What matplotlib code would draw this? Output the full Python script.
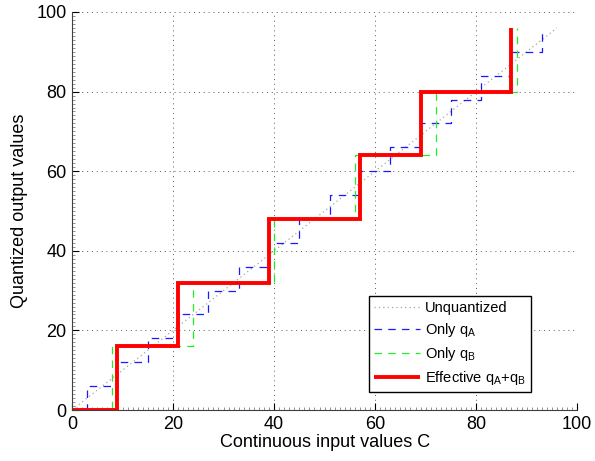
import matplotlib
matplotlib.use("Agg")
import matplotlib.pyplot as plt
from matplotlib.ticker import MultipleLocator

plt.rcParams['font.family'] = ['Liberation Sans', 'DejaVu Sans']
plt.rcParams['mathtext.fontset'] = 'custom'
plt.rcParams['mathtext.rm'] = 'Liberation Sans'
plt.rcParams['mathtext.it'] = 'Liberation Sans'

# Data
unq_x = [0, 96]
unq_y = [0, 96]

qA_breaks = [3, 9, 15, 21, 27, 33, 39, 45, 51, 57, 63, 69, 75, 81, 87, 93]
qA_levels = [0, 6, 12, 18, 24, 30, 36, 42, 48, 54, 60, 66, 72, 78, 84, 90, 96]

qB_breaks = [8, 24, 40, 56, 72, 88]
qB_levels = [0, 16, 32, 48, 64, 80, 96]

eff_breaks = [9, 21, 39, 57, 69, 87]
eff_levels = [0, 16, 32, 48, 64, 80, 96]

labels = ["Unquantized", "Only q$_\\mathregular{A}$", "Only q$_\\mathregular{B}$",
          "Effective q$_\\mathregular{A}$+q$_\\mathregular{B}$"]


def stair(breaks, levels, x0=0):
    xs, ys = [x0], [levels[0]]
    for b, prev, new in zip(breaks, levels[:-1], levels[1:]):
        xs += [b, b]
        ys += [prev, new]
    return xs, ys


fig = plt.figure(figsize=(5.95, 4.61), dpi=100)
ax = fig.add_axes([0.121, 0.1106, 0.849, 0.8634])

ax.plot(unq_x, unq_y, linestyle=(0, (1, 2.5)), color='0.65', lw=0.9, label=labels[0])
xa, ya = stair(qA_breaks, qA_levels)
ax.plot(xa, ya, linestyle=(0, (6, 5)), color='#1a1aff', lw=0.9, label=labels[1])
xb, yb = stair(qB_breaks, qB_levels)
ax.plot(xb, yb, linestyle=(0, (6, 5)), color='#22ee22', lw=0.9, label=labels[2])
xe, ye = stair(eff_breaks, eff_levels)
ax.plot(xe, ye, linestyle='-', color='#ff0000', lw=2.8, label=labels[3],
        solid_capstyle='butt', solid_joinstyle='miter')

ax.set_xlim(0, 100)
ax.set_ylim(0, 100)
ax.xaxis.set_major_locator(MultipleLocator(20))
ax.yaxis.set_major_locator(MultipleLocator(20))
ax.xaxis.set_minor_locator(MultipleLocator(1))
ax.yaxis.set_minor_locator(MultipleLocator(1))
ax.tick_params(which='major', direction='in', length=5, width=0.8, labelsize=13, pad=4)
ax.tick_params(which='minor', direction='in', length=2.5, width=0.5, color='0.4')
for s in ['top', 'right']:
    ax.spines[s].set_visible(False)
for s in ['left', 'bottom']:
    ax.spines[s].set_linewidth(0.8)
    ax.spines[s].set_color('0.25')

ax.grid(True, which='major', linestyle=(0, (1, 4)), color='0.35', lw=0.7)

ax.set_xlabel("Continuous input values C", fontsize=13, labelpad=1)
ax.set_ylabel("Quantized output values", fontsize=13, labelpad=6)

leg = ax.legend(loc='lower right', bbox_to_anchor=(0.908, 0.045), fontsize=10.5,
                frameon=True, fancybox=False, edgecolor='black', framealpha=1,
                handlelength=3.2, handletextpad=0.3, borderpad=0.35, labelspacing=0.42,
                borderaxespad=0)
leg.get_frame().set_linewidth(1.0)

fig.savefig("out.png", dpi=100)
